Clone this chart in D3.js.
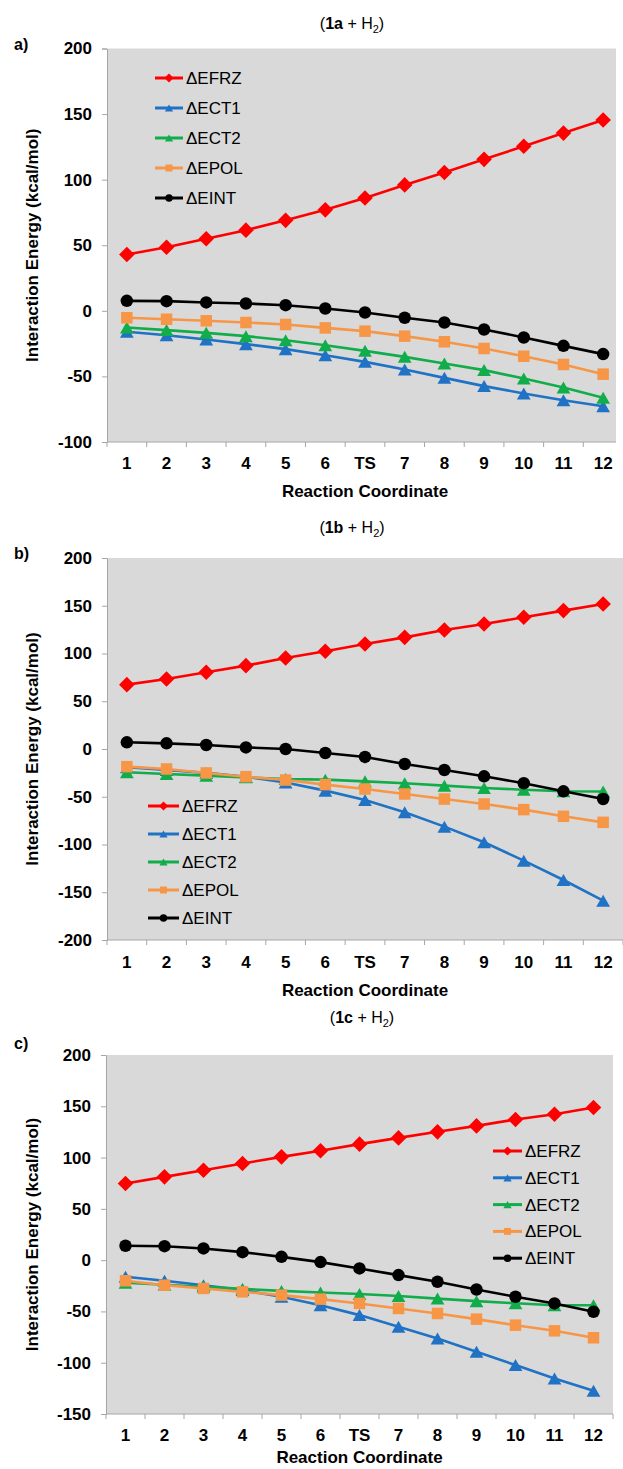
<!DOCTYPE html>
<html><head><meta charset="utf-8">
<script src="https://cdn.jsdelivr.net/npm/d3@7"></script>
<style>
body{margin:0;background:#fff}
svg text{font-family:Arial,"Liberation Sans",sans-serif;fill:#000}
</style>
</head><body>
<svg id="chart" width="623" height="1469"></svg>
<script>
// ---------- data ----------
const categories = ["1","2","3","4","5","6","TS","7","8","9","10","11","12"];
const seriesNames = ["\u0394EFRZ","\u0394ECT1","\u0394ECT2","\u0394EPOL","\u0394EINT"];
const seriesColors = ["#ff0000","#1f72c4","#11ad4b","#f79646","#000000"];
const seriesShapes = ["diamond","triangle","triangle","square","circle"];

const yTicksA = [-100,-50,0,50,100,150,200];
const yTicksB = [-200,-150,-100,-50,0,50,100,150,200];
const yTicksC = [-150,-100,-50,0,50,100,150,200];

const aEFRZ = [43,48.5,55,61.5,69,77,86,96,105.5,115.5,125.5,135.5,145.5];
const aECT1 = [-16,-18.6,-21.9,-25.4,-29.2,-33.8,-38.9,-44.7,-51.1,-57.4,-63,-68.1,-72.7];
const aECT2 = [-12.7,-14.7,-16.8,-19.3,-22.4,-26.2,-30.5,-35.1,-40.2,-45.2,-51.6,-58.4,-66.3];
const aEPOL = [-5.3,-6.4,-7.6,-8.9,-10.4,-13,-15.5,-19.3,-23.6,-28.7,-34.6,-40.9,-48.3];
const aEINT = [7.6,7.4,6.4,5.6,4.3,1.8,-1.3,-5.3,-8.9,-14.2,-20.3,-26.7,-33];

const bEFRZ = [67.4,73.3,80.3,87.3,95.3,102.3,110,116.9,124.6,130.9,137.9,144.9,151.8];
const bECT1 = [-19,-22,-25,-29,-35,-43.6,-53.4,-66.3,-81.3,-97.7,-116.9,-137.2,-158.8];
const bECT2 = [-24.4,-26.2,-27.9,-29.7,-31.4,-32.1,-33.9,-35.9,-38.4,-40.8,-42.6,-44.3,-44.5];
const bEPOL = [-18.5,-20.9,-25.1,-29,-32.5,-37.3,-41.9,-47.1,-52.4,-57.6,-63.5,-70.5,-76.8];
const bEINT = [7,5.9,4.2,1.7,0,-4.2,-8.3,-15.7,-22,-28.6,-35.9,-44.3,-52.4];

const cEFRZ = [74.7,81.2,87.7,94.2,100.7,106.6,113.1,119.2,125.1,130.9,137.1,142.3,148.8];
const cECT1 = [-16.2,-20.1,-24.4,-29.2,-35.7,-43.9,-53.6,-65,-76.3,-89.3,-102.3,-115.3,-127.4];
const cECT2 = [-22,-24,-26,-28,-30,-31.5,-33,-35,-37.5,-40,-42,-44,-44];
const cEPOL = [-20.1,-24.4,-27.6,-30.9,-34.1,-38,-42.2,-47.1,-52,-57.5,-63.4,-68.9,-75.7];
const cEINT = [14,13.6,11.4,7.8,3.2,-1.9,-8.1,-14.6,-21.1,-28.6,-35.7,-42.2,-50.4];

// ---------- layout ----------
const panels = [
  {label:"a)", sys:"1a", series:[aEFRZ,aECT1,aECT2,aEPOL,aEINT], ticks:yTicksA,
   top:48.5, bottom:442, x0:107, x1:623, bgRight:616, titleX:352, titleY:23, labelY:44,
   tickY:463, xTitleY:491, leg:{x0:155,x1:183,tx:186,y0:78,dy:30}},
  {label:"b)", sys:"1b", series:[bEFRZ,bECT1,bECT2,bEPOL,bEINT], ticks:yTicksB,
   top:558, bottom:940, x0:107, x1:623, bgRight:623, titleX:352, titleY:527, labelY:553,
   tickY:962, xTitleY:990, leg:{x0:148,x1:179,tx:182,y0:806,dy:28}},
  {label:"c)", sys:"1c", series:[cEFRZ,cECT1,cECT2,cEPOL,cEINT], ticks:yTicksC,
   top:1055, bottom:1414, x0:106, x1:613, bgRight:613, titleX:362, titleY:1017, labelY:1043,
   tickY:1435, xTitleY:1457, leg:{x0:493,x1:522,tx:525,y0:1151,dy:26.8}}
];

const svg = d3.select("#chart");

function marker(g, shape, x, y, s, color){
  if(shape==="circle"){
    g.append("circle").attr("cx",x).attr("cy",y).attr("r",s*0.5).attr("fill",color);
  } else if(shape==="square"){
    g.append("rect").attr("x",x-s*0.46).attr("y",y-s*0.46).attr("width",s*0.92).attr("height",s*0.92).attr("fill",color);
  } else if(shape==="diamond"){
    const h=s*0.6;
    g.append("path").attr("d",`M${x},${y-h}L${x+h},${y}L${x},${y+h}L${x-h},${y}Z`).attr("fill",color);
  } else {
    const w=s*0.55, h=s*0.48;
    g.append("path").attr("d",`M${x},${y-h}L${x+w},${y+h}L${x-w},${y+h}Z`).attr("fill",color);
  }
}

panels.forEach(p=>{
  const g = svg.append("g");
  const x = d3.scalePoint().domain(categories).range([p.x0,p.x1]).padding(0.5);
  const yMin = d3.min(p.ticks), yMax = d3.max(p.ticks);
  const y = d3.scaleLinear().domain([yMin,yMax]).range([p.bottom,p.top]);

  // background
  g.append("rect").attr("x",p.x0+1).attr("y",p.top).attr("width",p.bgRight-p.x0-1)
    .attr("height",p.bottom-p.top).attr("fill","#d9d9d9");

  // y axis
  const ya = g.append("g").attr("transform",`translate(${p.x0},0)`)
    .call(d3.axisLeft(y).tickValues(p.ticks).tickFormat(d=>String(d)).tickSize(5).tickPadding(10));
  ya.select(".domain").attr("stroke","#a6a6a6");
  ya.selectAll(".tick line").attr("stroke","#a6a6a6");
  ya.selectAll(".tick text").attr("font-size",17).attr("font-weight","bold")
    .attr("font-family","Arial, 'Liberation Sans', sans-serif").attr("fill","#000");

  // x axis (Excel-style: ticks between categories)
  const step = x.step();
  const bounds = d3.range(categories.length+1).map(i=>p.x0+i*step);
  g.append("line").attr("x1",p.x0).attr("x2",p.bgRight).attr("y1",p.bottom).attr("y2",p.bottom)
    .attr("stroke","#a6a6a6");
  g.selectAll(null).data(bounds.filter(b=>b<=p.bgRight+0.5)).enter().append("line")
    .attr("x1",d=>d).attr("x2",d=>d).attr("y1",p.bottom).attr("y2",p.bottom+5).attr("stroke","#a6a6a6");
  g.selectAll(null).data(categories).enter().append("text")
    .attr("x",d=>x(d)).attr("y",p.tickY).attr("dy","0.35em").attr("text-anchor","middle")
    .attr("font-size",17).attr("font-weight","bold").text(d=>d);

  // axis titles
  g.append("text").attr("x",(p.x0+p.x1)/2).attr("y",p.xTitleY).attr("dy","0.35em")
    .attr("text-anchor","middle").attr("font-size",17).attr("font-weight","bold").text("Reaction Coordinate");
  g.append("text").attr("transform",`translate(32,${(p.top+p.bottom)/2}) rotate(-90)`)
    .attr("dy","0.35em").attr("text-anchor","middle").attr("font-size",17).attr("font-weight","bold")
    .text("Interaction Energy (kcal/mol)");

  // panel label and title
  g.append("text").attr("x",14).attr("y",p.labelY).attr("dy","0.35em").attr("font-size",16)
    .attr("font-weight","bold").text(p.label);
  const t = g.append("text").attr("x",p.titleX).attr("y",p.titleY).attr("dy","0.35em")
    .attr("text-anchor","middle").attr("font-size",16);
  t.append("tspan").text("(");
  t.append("tspan").attr("font-weight","bold").text(p.sys);
  t.append("tspan").text(" + H");
  t.append("tspan").attr("font-size",11).attr("dy",4).text("2");
  t.append("tspan").attr("dy",-4).text(")");

  // series
  const line = d3.line().x((d,i)=>x(categories[i])).y(d=>y(d));
  p.series.forEach((vals,si)=>{
    const sg = g.append("g");
    sg.append("path").datum(vals).attr("d",line).attr("fill","none")
      .attr("stroke",seriesColors[si]).attr("stroke-width",2.6);
    vals.forEach((v,i)=>marker(sg, seriesShapes[si], x(categories[i]), y(v), si===0?13:12.5, seriesColors[si]));
  });

  // legend
  const L = p.leg;
  seriesNames.forEach((n,si)=>{
    const ly = L.y0 + si*L.dy;
    g.append("line").attr("x1",L.x0).attr("x2",L.x1).attr("y1",ly).attr("y2",ly)
      .attr("stroke",seriesColors[si]).attr("stroke-width",3);
    marker(g, seriesShapes[si], (L.x0+L.x1)/2, ly, 7.5, seriesColors[si]);
    g.append("text").attr("x",L.tx).attr("y",ly).attr("dy","0.35em").attr("font-size",17).text(n);
  });
});
</script>
</body></html>
